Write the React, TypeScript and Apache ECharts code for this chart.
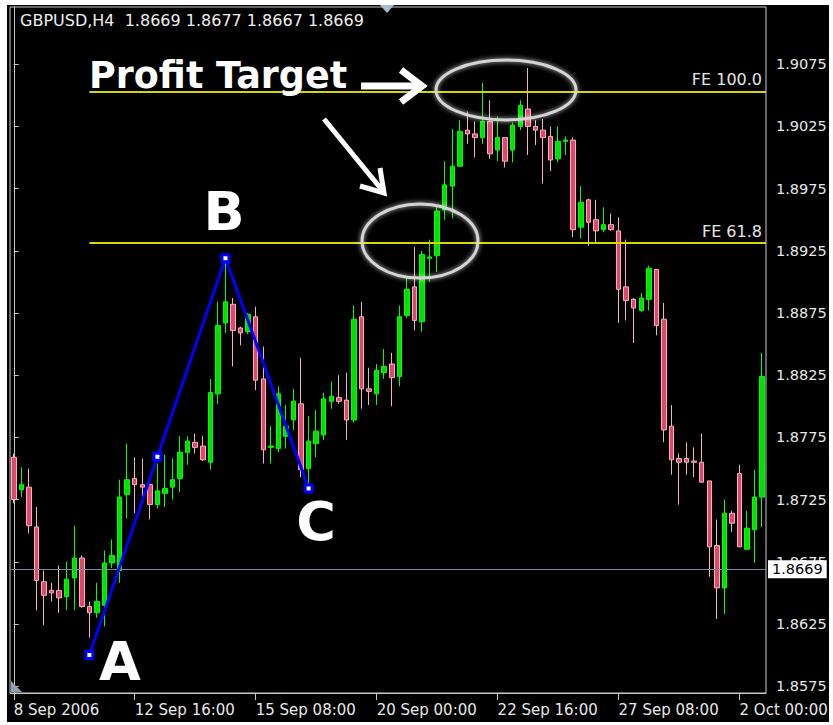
import React, { useEffect, useRef } from "react";
import * as echarts from "echarts";

const FONT = "DejaVu Sans";

// H4 bars, GBPUSD, 8 Sep 2006 00:00 onwards (weekends skipped)
const openPrices = [
  1.8759, 1.8733, 1.8735, 1.8703, 1.8659, 1.8652, 1.8652, 1.8647, 1.8662, 1.8678,
  1.8639, 1.8634, 1.8640, 1.8674, 1.8668, 1.8729, 1.8742, 1.8737, 1.8737, 1.8721,
  1.8730, 1.8735, 1.8742, 1.8763, 1.8771, 1.8768, 1.8755, 1.8810, 1.8867, 1.8882,
  1.8863, 1.8860, 1.8872, 1.8822, 1.8767, 1.8766, 1.8776, 1.8789, 1.8802, 1.8750,
  1.8770, 1.8777, 1.8804, 1.8807, 1.8805, 1.8789, 1.8872, 1.8814, 1.8810, 1.8827,
  1.8834, 1.8824, 1.8873, 1.8896, 1.8868, 1.8919, 1.8921, 1.8958, 1.8977, 1.8993,
  1.9022, 1.9019, 1.9016, 1.9029, 1.9006, 1.9016, 1.9006, 1.9025, 1.9039, 1.9025,
  1.9022, 1.9017, 1.8999, 1.9013, 1.9014, 1.8944, 1.8966, 1.8950, 1.8942, 1.8946,
  1.8941, 1.8896, 1.8886, 1.8877, 1.8886, 1.8910, 1.8870, 1.8784, 1.8758, 1.8758,
  1.8756, 1.8755, 1.8740, 1.8688, 1.8654, 1.8714, 1.8746, 1.8685, 1.8701, 1.8727,
];
const closePrices = [
  1.8725, 1.8737, 1.8704, 1.8660, 1.8648, 1.8650, 1.8646, 1.8661, 1.8678, 1.8639,
  1.8634, 1.8643, 1.8674, 1.8680, 1.8727, 1.8741, 1.8737, 1.8735, 1.8721, 1.8732,
  1.8734, 1.8741, 1.8763, 1.8772, 1.8767, 1.8757, 1.8811, 1.8865, 1.8884, 1.8861,
  1.8859, 1.8874, 1.8821, 1.8765, 1.8768, 1.8810, 1.8784, 1.8804, 1.8749, 1.8772,
  1.8780, 1.8806, 1.8808, 1.8804, 1.8789, 1.8870, 1.8814, 1.8812, 1.8829, 1.8832,
  1.8823, 1.8872, 1.8894, 1.8869, 1.8922, 1.8920, 1.8957, 1.8978, 1.8993, 1.9021,
  1.9019, 1.9016, 1.9029, 1.9003, 1.9016, 1.8997, 1.9026, 1.9042, 1.9025, 1.9022,
  1.9016, 1.8998, 1.9013, 1.9014, 1.8942, 1.8964, 1.8948, 1.8941, 1.8946, 1.8942,
  1.8894, 1.8885, 1.8879, 1.8887, 1.8911, 1.8865, 1.8781, 1.8757, 1.8755, 1.8755,
  1.8755, 1.8739, 1.8687, 1.8654, 1.8714, 1.8706, 1.8687, 1.8702, 1.8727, 1.8824,
];
const lowPrices = [
  1.8722, 1.8727, 1.8698, 1.8636, 1.8624, 1.8643, 1.8634, 1.8636, 1.8636, 1.8638,
  1.8614, 1.8630, 1.8623, 1.8670, 1.8658, 1.8710, 1.8714, 1.8727, 1.8709, 1.8718,
  1.8719, 1.8725, 1.8731, 1.8753, 1.8762, 1.8756, 1.8749, 1.8802, 1.8859, 1.8832,
  1.8849, 1.8858, 1.8813, 1.8754, 1.8754, 1.8763, 1.8766, 1.8781, 1.8743, 1.8735,
  1.8759, 1.8773, 1.8798, 1.8802, 1.8773, 1.8787, 1.8798, 1.8801, 1.8801, 1.8822,
  1.8800, 1.8816, 1.8871, 1.8861, 1.8860, 1.8900, 1.8908, 1.8950, 1.8951, 1.8993,
  1.9011, 1.9000, 1.9011, 1.8999, 1.8997, 1.8992, 1.8996, 1.9022, 1.9002, 1.9010,
  1.8979, 1.8989, 1.8996, 1.9002, 1.8936, 1.8935, 1.8929, 1.8931, 1.8940, 1.8941,
  1.8867, 1.8869, 1.8851, 1.8876, 1.8877, 1.8857, 1.8771, 1.8745, 1.8721, 1.8745,
  1.8743, 1.8739, 1.8663, 1.8629, 1.8633, 1.8699, 1.8687, 1.8685, 1.8674, 1.8703,
];
const highPrices = [
  1.8762, 1.8751, 1.8750, 1.8719, 1.8668, 1.8658, 1.8672, 1.8675, 1.8704, 1.8680,
  1.8643, 1.8658, 1.8684, 1.8693, 1.8741, 1.8770, 1.8759, 1.8758, 1.8739, 1.8754,
  1.8761, 1.8758, 1.8776, 1.8776, 1.8778, 1.8776, 1.8822, 1.8884, 1.8919, 1.8887,
  1.8864, 1.8875, 1.8880, 1.8848, 1.8784, 1.8816, 1.8801, 1.8814, 1.8839, 1.8792,
  1.8797, 1.8811, 1.8820, 1.8825, 1.8827, 1.8881, 1.8884, 1.8831, 1.8834, 1.8846,
  1.8843, 1.8881, 1.8903, 1.8928, 1.8925, 1.8934, 1.8960, 1.8997, 1.9023, 1.9030,
  1.9037, 1.9029, 1.9060, 1.9046, 1.9033, 1.9016, 1.9028, 1.9046, 1.9072, 1.9030,
  1.9031, 1.9025, 1.9025, 1.9017, 1.9016, 1.8977, 1.8967, 1.8966, 1.8960, 1.8955,
  1.8952, 1.8934, 1.8887, 1.8891, 1.8913, 1.8910, 1.8883, 1.8801, 1.8762, 1.8771,
  1.8767, 1.8778, 1.8740, 1.8709, 1.8725, 1.8716, 1.8753, 1.8716, 1.8749, 1.8843,
];

const xTickLabels = ["8 Sep 2006", "12 Sep 16:00", "15 Sep 08:00", "20 Sep 00:00", "22 Sep 16:00", "27 Sep 08:00", "2 Oct 00:00"];
const xTickEvery = 16;
const yTickValues = [1.8575, 1.8625, 1.8675, 1.8725, 1.8775, 1.8825, 1.8875, 1.8925, 1.8975, 1.9025, 1.9075];
const Y_MIN = 1.85695;
const Y_MAX = 1.9121;

// Fibonacci expansion points: [bar index, price]
const pointA = [10, 1.86];
const pointB = [28, 1.8919];
const pointC = [39, 1.8734];
const feRatios = [1.0, 0.618];
const feNames = ["FE 100.0", "FE 61.8"];
const currentPrice = 1.8669;
const headerText = "GBPUSD,H4  1.8669 1.8677 1.8667 1.8669";

// bar time names (H4, weekdays only)
const categories: string[] = (() => {
  const out: string[] = [];
  let t = Date.UTC(2006, 8, 8, 0, 0);
  while (out.length < openPrices.length) {
    const d = new Date(t);
    const wd = d.getUTCDay();
    if (wd !== 0 && wd !== 6) {
      out.push(`${d.getUTCFullYear()}.${d.getUTCMonth() + 1}.${d.getUTCDate()} ${String(d.getUTCHours()).padStart(2, "0")}:00`);
    }
    t += 4 * 3600 * 1000;
  }
  return out;
})();

export default function App() {
  const ref = useRef<HTMLDivElement>(null);
  useEffect(() => {
    const chart = echarts.init(ref.current!, null, { renderer: "svg" });
    const candles = openPrices.map((o, i) => [o, closePrices[i], lowPrices[i], highPrices[i]]);
    const pointMid = [(pointA[0] + pointB[0]) / 2, (pointA[1] + pointB[1]) / 2];
    const range = pointB[1] - pointA[1];
    const feLevels = feRatios.map((r) => pointC[1] + r * range);
    const lastX = openPrices.length - 0.5;

    const option: any = {
      animation: false,
      backgroundColor: "#000",
      grid: {
        left: 10, right: 67, top: 7, bottom: 32,
        show: true, borderColor: "#c8c8c8", borderWidth: 1, backgroundColor: "transparent",
      },
      xAxis: [
        {
          type: "category",
          data: categories,
          boundaryGap: true,
          axisLine: { show: true, lineStyle: { color: "#c8c8c8" } },
          axisTick: {
            show: true, alignWithLabel: true, length: 7,
            interval: (i: number) => i % xTickEvery === 0,
            lineStyle: { color: "#c8c8c8" },
          },
          axisLabel: {
            interval: (i: number) => i % xTickEvery === 0,
            formatter: (_v: string, i: number) => xTickLabels[i / xTickEvery] ?? "",
            align: "left", color: "#e8e8e8", fontFamily: FONT, fontSize: 15, margin: 9,
          },
          splitLine: { show: false },
        },
        { type: "value", min: -0.5, max: lastX, show: false },
      ],
      yAxis: {
        type: "value",
        position: "right",
        min: Y_MIN, max: Y_MAX,
        splitLine: { show: false },
        axisLine: { show: true, lineStyle: { color: "#c8c8c8" } },
        axisTick: { show: true, customValues: yTickValues, length: 5, lineStyle: { color: "#c8c8c8" } },
        axisLabel: {
          customValues: yTickValues,
          formatter: (v: number) => v.toFixed(4),
          color: "#e8e8e8", fontFamily: FONT, fontSize: 14.5, margin: 10,
        },
      },
      series: [
        {
          type: "line",
          xAxisIndex: 1,
          data: [],
          z: 1,
          markLine: {
            silent: true,
            symbol: "none",
            lineStyle: { color: "#7a8a9c", width: 1, type: "solid" },
            label: {
              show: true, position: "end", distance: 2,
              formatter: currentPrice.toFixed(4),
              backgroundColor: "#ffffff", color: "#000", padding: [2, 4, 1, 4],
              fontFamily: FONT, fontSize: 14.5,
            },
            data: [[{ coord: [-0.5, currentPrice] }, { coord: [lastX, currentPrice] }]],
          },
        },
        {
          type: "candlestick",
          data: candles,
          barWidth: 5,
          z: 2,
          itemStyle: {
            color: "#00e000", color0: "#e0486a",
            borderColor: "#00ff00", borderColor0: "#f4b2c0", borderWidth: 1,
          },
        },
        {
          type: "line",
          xAxisIndex: 1,
          data: [],
          z: 3,
          markLine: {
            silent: true,
            symbol: "none",
            lineStyle: { color: "#d8d800", width: 2, type: "solid" },
            label: {
              show: true, position: "insideEndTop", distance: 4,
              color: "#e4e4e4", fontFamily: FONT, fontSize: 16,
            },
            data: feLevels.map((lv, k) => [
              { coord: [pointA[0], lv], label: { formatter: feNames[k] } },
              { coord: [lastX, lv] },
            ]),
          },
        },
        {
          type: "line",
          xAxisIndex: 1,
          data: [pointA, pointMid, pointB, pointC],
          z: 5,
          lineStyle: { color: "#0000ff", width: 3 },
          symbol: "rect",
          symbolSize: 7,
          itemStyle: { color: "#ffffff", borderColor: "#0000ff", borderWidth: 3 },
        },
      ],
      graphic: [
        { type: "rect", z: 100, shape: { x: 0, y: 0, width: 7, height: 725 }, style: { fill: "#fff" } },
        { type: "rect", z: 100, shape: { x: 0, y: 0, width: 833, height: 5 }, style: { fill: "#fff" } },
        { type: "rect", z: 100, shape: { x: 0, y: 722, width: 833, height: 3 }, style: { fill: "#fff" } },
        { type: "rect", z: 100, shape: { x: 829, y: 0, width: 4, height: 725 }, style: { fill: "#fff" } },
        { type: "polygon", z: 100, shape: { points: [[380, 5], [394, 5], [387, 13]] }, style: { fill: "#a9bccf" } },
        { type: "polygon", z: 100, shape: { points: [[11, 681], [11, 692], [22, 692]] }, style: { fill: "#8fa0b3" } },
        {
          type: "text", z: 100,
          style: { text: headerText, x: 20, y: 20, fill: "#f0f0f0", fontFamily: FONT, fontSize: 16, align: "left", verticalAlign: "middle" },
        },
        {
          type: "text", z: 100,
          style: { text: "Profit Target", x: 89, y: 75, fill: "#ffffff", fontFamily: FONT, fontWeight: "bold", fontSize: 36.5, align: "left", verticalAlign: "middle" },
        },
        { type: "line", z: 100, shape: { x1: 361, y1: 86, x2: 418, y2: 86 }, style: { stroke: "#fff", lineWidth: 7 } },
        { type: "polyline", z: 100, shape: { points: [[401, 70], [422, 86], [401, 102]] }, style: { stroke: "#fff", lineWidth: 7, fill: "none" } },
        { type: "line", z: 100, shape: { x1: 324, y1: 119, x2: 382, y2: 190 }, style: { stroke: "#fff", lineWidth: 5 } },
        { type: "polyline", z: 100, shape: { points: [[380, 168], [384, 193], [360, 186]] }, style: { stroke: "#fff", lineWidth: 5, fill: "none" } },
        {
          type: "ellipse", z: 100,
          shape: { cx: 506, cy: 90, rx: 70, ry: 30 },
          style: { fill: "none", stroke: "#d4d4d4", lineWidth: 3, shadowBlur: 5, shadowColor: "rgba(255,255,255,0.8)" },
        },
        {
          type: "ellipse", z: 100,
          shape: { cx: 420, cy: 241, rx: 58, ry: 37 },
          style: { fill: "none", stroke: "#d4d4d4", lineWidth: 3, shadowBlur: 5, shadowColor: "rgba(255,255,255,0.8)" },
        },
        { type: "text", z: 100, style: { text: "A", x: 120, y: 661, fill: "#fff", fontFamily: FONT, fontWeight: "bold", fontSize: 54, align: "center", verticalAlign: "middle" } },
        { type: "text", z: 100, style: { text: "B", x: 224, y: 211, fill: "#fff", fontFamily: FONT, fontWeight: "bold", fontSize: 54, align: "center", verticalAlign: "middle" } },
        { type: "text", z: 100, style: { text: "C", x: 316, y: 521, fill: "#fff", fontFamily: FONT, fontWeight: "bold", fontSize: 54, align: "center", verticalAlign: "middle" } },
      ],
    };
    chart.setOption(option);
    return () => chart.dispose();
  }, []);
  return <div ref={ref} style={{ position: "absolute", left: 0, top: 0, width: 833, height: 725 }} />;
}
